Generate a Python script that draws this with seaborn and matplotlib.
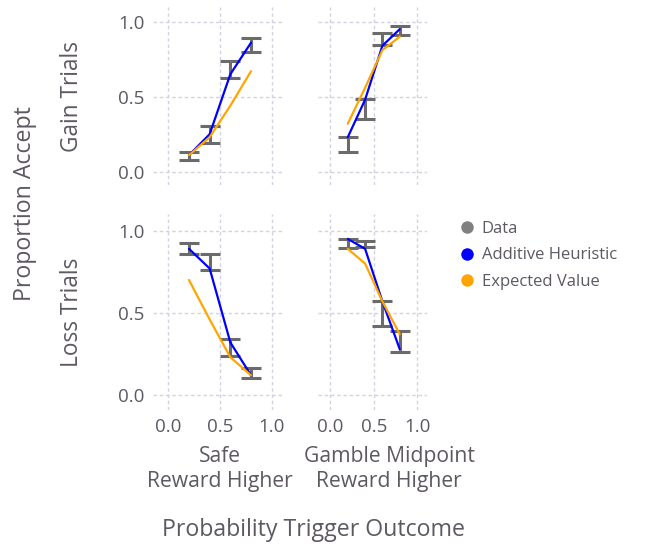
import numpy as np
import pandas as pd
import matplotlib
matplotlib.use("Agg")
import matplotlib.pyplot as plt
from matplotlib.lines import Line2D
import seaborn as sns

# values
prob = [0.2, 0.4, 0.6, 0.8]
rows = ["Gain Trials", "Loss Trials"]
cols = ["Safe\nReward Higher", "Gamble Midpoint\nReward Higher"]

gain_safe_lo = [0.078, 0.193, 0.622, 0.796]
gain_safe_hi = [0.133, 0.305, 0.738, 0.889]
gain_safe_add = [0.11, 0.25, 0.65, 0.86]
gain_safe_ev = [0.11, 0.23, 0.44, 0.67]

gain_mid_lo = [0.131, 0.349, 0.845, 0.911]
gain_mid_hi = [0.229, 0.483, 0.927, 0.971]
gain_mid_add = [0.23, 0.48, 0.84, 0.95]
gain_mid_ev = [0.32, 0.56, 0.81, 0.90]

loss_safe_lo = [0.856, 0.761, 0.237, 0.105]
loss_safe_hi = [0.923, 0.858, 0.339, 0.166]
loss_safe_add = [0.89, 0.77, 0.32, 0.12]
loss_safe_ev = [0.70, 0.46, 0.23, 0.12]

loss_mid_lo = [0.892, 0.899, 0.422, 0.260]
loss_mid_hi = [0.949, 0.935, 0.572, 0.390]
loss_mid_add = [0.95, 0.89, 0.57, 0.28]
loss_mid_ev = [0.89, 0.80, 0.57, 0.37]

panels = {
    (0, 0): (gain_safe_lo, gain_safe_hi, gain_safe_add, gain_safe_ev),
    (0, 1): (gain_mid_lo, gain_mid_hi, gain_mid_add, gain_mid_ev),
    (1, 0): (loss_safe_lo, loss_safe_hi, loss_safe_add, loss_safe_ev),
    (1, 1): (loss_mid_lo, loss_mid_hi, loss_mid_add, loss_mid_ev),
}

sns.set_theme(style="white")
plt.rcParams['font.family'] = ['Open Sans', 'DejaVu Sans']
txt = "#5d5862"
grid_c = "#d2d2e2"
palette = {"Additive Heuristic": "blue", "Expected Value": "orange"}

W, H = 647, 547
fig = plt.figure(figsize=(W / 100, H / 100), dpi=100)

# axes boxes in pixels: (left, top, width, height)
col_box = [(152.8, 131.3), (317.5, 109.9)]
row_box = [(6.7, 178.5), (214.3, 195.5)]

for (r, c), (lo, hi, add, ev) in panels.items():
    x0, w = col_box[c]
    y0, h = row_box[r]
    ax = fig.add_axes([x0 / W, 1 - (y0 + h) / H, w / W, h / H])
    lo = np.array(lo)
    hi = np.array(hi)
    mid = (lo + hi) / 2
    ax.errorbar(prob, mid, yerr=[mid - lo, hi - mid], fmt="none",
                ecolor="#6b6b6b", elinewidth=2.2, capsize=7.5, capthick=2.2, zorder=2)
    df = pd.DataFrame({
        "prob": prob * 2,
        "accept": list(add) + list(ev),
        "model": ["Additive Heuristic"] * 4 + ["Expected Value"] * 4,
    })
    sns.lineplot(data=df, x="prob", y="accept", hue="model", palette=palette,
                 linewidth=1.6, legend=False, ax=ax, zorder=3)
    ax.set_xlim(-0.15, 1.12)
    ax.set_ylim(-0.09, 1.1)
    ax.set_xticks([0, 0.5, 1.0])
    ax.set_yticks([0, 0.5, 1.0])
    ax.grid(True, color=grid_c, linestyle=(0, (2.5, 2)), linewidth=1)
    for s in ax.spines.values():
        s.set_visible(False)
    ax.tick_params(length=0, labelsize=13.5, colors=txt, pad=6)
    ax.set_xlabel("")
    ax.set_ylabel("")
    ax.set_xticklabels(["0.0", "0.5", "1.0"])
    ax.set_yticklabels(["0.0", "0.5", "1.0"])
    if c == 1:
        ax.tick_params(labelleft=False)
    if r == 0:
        ax.tick_params(labelbottom=False)

# row and column headers
fig.text(72 / W, 1 - 96 / H, rows[0], rotation=90, ha="center", va="center", fontsize=16.3, color=txt)
fig.text(72 / W, 1 - 312 / H, rows[1], rotation=90, ha="center", va="center", fontsize=16.3, color=txt)
fig.text(220 / W, 1 - 469 / H, cols[0], ha="center", va="center", fontsize=15.2, color=txt, linespacing=1.28)
fig.text(389 / W, 1 - 469 / H, cols[1], ha="center", va="center", fontsize=15.2, color=txt, linespacing=1.28)

fig.text(25 / W, 1 - 204 / H, "Proportion Accept", rotation=90, ha="center", va="center", fontsize=16.7, color=txt)
fig.text(313 / W, 1 - 530 / H, "Probability Trigger Outcome", ha="center", va="center", fontsize=16.7, color=txt)

handles = [
    Line2D([], [], marker="o", linestyle="", markersize=10, markerfacecolor="#808080", markeredgecolor="white"),
    Line2D([], [], marker="o", linestyle="", markersize=10, markerfacecolor="blue", markeredgecolor="white"),
    Line2D([], [], marker="o", linestyle="", markersize=10, markerfacecolor="orange", markeredgecolor="white"),
]
leg = fig.legend(handles, ["Data", "Additive Heuristic", "Expected Value"],
                 loc="upper left", bbox_to_anchor=(450 / W, 1 - 214 / H), frameon=False,
                 fontsize=12, handletextpad=0.3, labelspacing=0.64, borderaxespad=0, handlelength=1.2)
for t in leg.get_texts():
    t.set_color(txt)

fig.savefig("out.png", dpi=100)
